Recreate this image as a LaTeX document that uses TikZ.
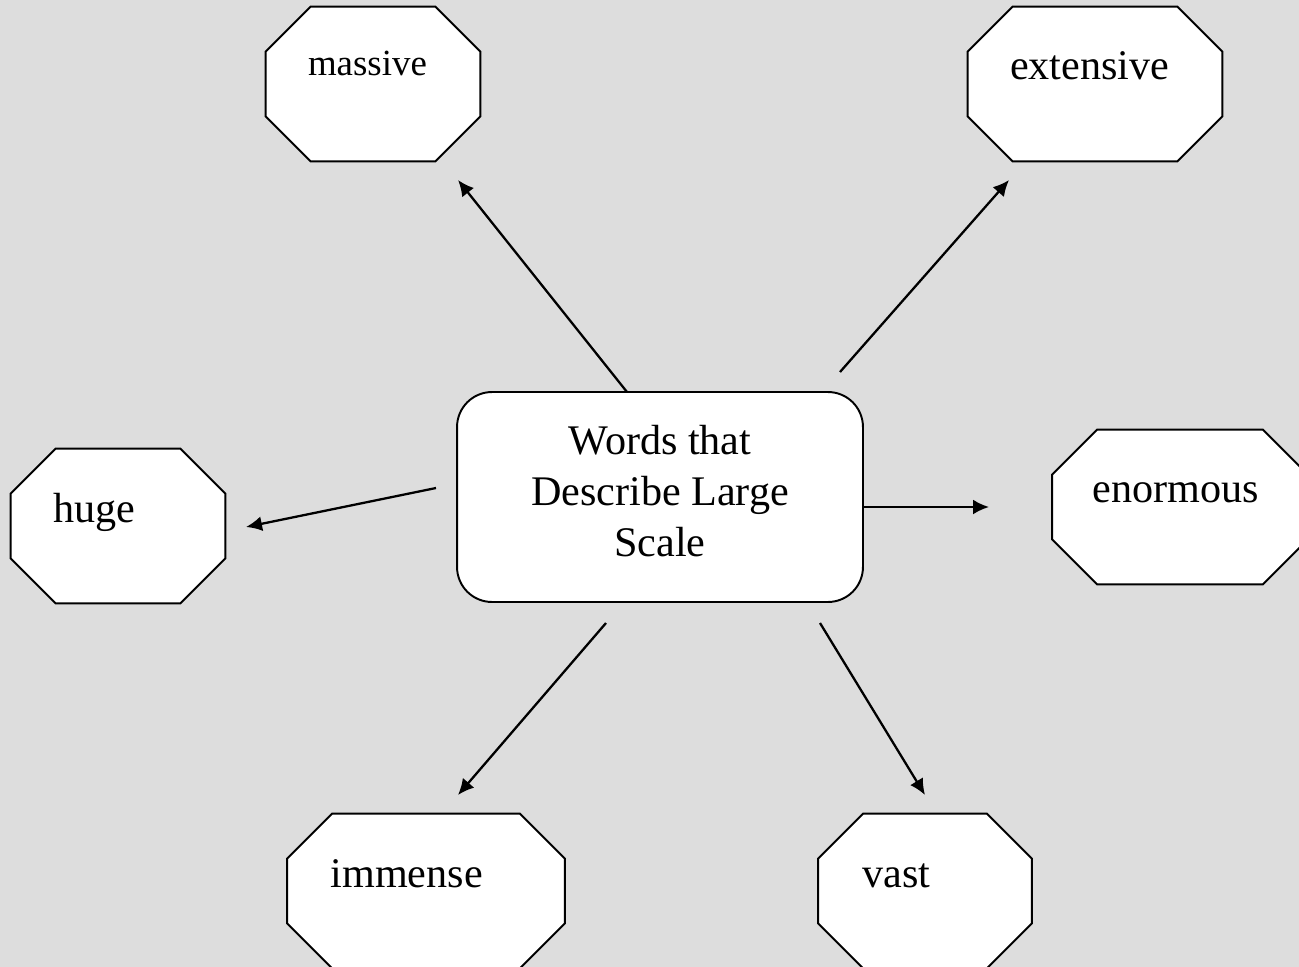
\documentclass[tikz,border=0pt]{standalone}
\usepackage{fontspec}
\setmainfont{Liberation Serif}
\usetikzlibrary{arrows.meta,calc}
\definecolor{bggray}{RGB}{221,221,221}

\begin{document}
\begin{tikzpicture}[x=0.02cm,y=-0.02cm,
  wordbox/.style={inner sep=0pt, minimum height=3.08cm},
  word/.style={anchor=base west, inner sep=0pt, font=\fontsize{24}{29}\selectfont},
  arr/.style={line width=1.3pt, -{Latex[length=0.32cm,width=0.3cm]}}]
% background
\fill[bggray] (0,0) rectangle (1299,967);
\useasboundingbox (0,0) rectangle (1299,967);

% central box
\node[draw, line width=1.1pt, fill=white, rounded corners=0.7cm,
  minimum width=8.12cm, minimum height=4.2cm] (ctr) at (660,497) {};
\node[align=center, inner sep=0pt, font=\fontsize{24}{29}\selectfont]
  (ctr-t) at ($(ctr)+(0,-6)$) {Words that\\Describe Large\\Scale};

% word octagons
\node[wordbox, minimum width=4.28cm] (massive) at (373,84) {};
\node[wordbox, minimum width=5.08cm] (extensive) at (1095,84) {};
\node[wordbox, minimum width=4.28cm] (huge) at (118,526) {};
\node[wordbox, minimum width=5.1cm] (enormous) at (1180,507) {};
\node[wordbox, minimum width=5.54cm] (immense) at (426,891) {};
\node[wordbox, minimum width=4.26cm] (vast) at (925,891) {};

\foreach \n in {massive,extensive,huge,enormous,immense,vast}
  \filldraw[fill=white, line width=1.1pt]
    ($(\n.north west)+(45,0)$) -- ($(\n.north east)+(-45,0)$) --
    ($(\n.north east)+(0,45)$) -- ($(\n.south east)+(0,-45)$) --
    ($(\n.south east)+(-45,0)$) -- ($(\n.south west)+(45,0)$) --
    ($(\n.south west)+(0,-45)$) -- ($(\n.north west)+(0,45)$) -- cycle;

\node[word, font=\fontsize{21}{25}\selectfont] (massive-t) at ($(massive.north west)+(42,69)$) {massive};
\node[word] (extensive-t) at ($(extensive.north west)+(42,73)$) {extensive};
\node[word] (huge-t) at ($(huge.north west)+(42,74)$) {huge};
\node[word] (enormous-t) at ($(enormous.north west)+(40,73)$) {enormous};
\node[word] (immense-t) at ($(immense.north west)+(43,74)$) {immense};
\node[word] (vast-t) at ($(vast.north west)+(44,74)$) {vast};

% arrow ends
\coordinate (s1) at (627,392); \coordinate (t1) at (458,180);
\coordinate (s2) at (840,372); \coordinate (t2) at (1009,180);
\coordinate (s3) at (436,488); \coordinate (t3) at (246,527);
\coordinate (t4) at (989,507); \coordinate (s4) at (ctr.east |- t4);
\coordinate (s5) at (606,623); \coordinate (t5) at (458,795);
\coordinate (s6) at (820,623); \coordinate (t6) at (925,795);

\draw[arr] (s1) -- (t1);
\draw[arr] (s2) -- (t2);
\draw[arr] (s3) -- (t3);
\draw[arr] (s4) -- (t4);
\draw[arr] (s5) -- (t5);
\draw[arr] (s6) -- (t6);
\end{tikzpicture}
\end{document}
